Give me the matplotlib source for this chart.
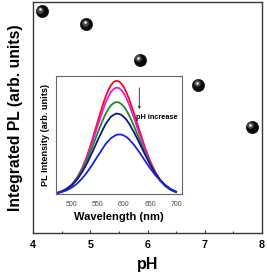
import matplotlib
matplotlib.use("Agg")
import matplotlib.pyplot as plt
import matplotlib.transforms as mtransforms

plt.rcParams['font.family'] = ['Liberation Sans', 'DejaVu Sans']

# main panel: integrated PL vs pH
ph = [4.15, 4.93, 5.86, 6.89, 7.82]
pl_integrated = [0.960, 0.904, 0.749, 0.641, 0.459]

# inset: PL spectra, one per pH value
wavelength = [470, 480, 490, 500, 510, 520, 530, 540, 550, 560, 565, 570, 575, 580, 585,
              590, 595, 600, 605, 610, 620, 630, 640, 650, 660, 670, 680, 690, 700]
spec_red = [0.006, 0.020, 0.043, 0.079, 0.137, 0.221, 0.333, 0.470, 0.620, 0.764, 0.827, 0.880,
            0.922, 0.949, 0.960, 0.955, 0.936, 0.905, 0.858, 0.805, 0.675, 0.535, 0.400,
            0.283, 0.188, 0.116, 0.066, 0.034, 0.016]
spec_magenta = [0.006, 0.020, 0.044, 0.080, 0.136, 0.216, 0.321, 0.447, 0.584, 0.716, 0.778, 0.824,
                0.866, 0.888, 0.902, 0.899, 0.881, 0.851, 0.810, 0.758, 0.637, 0.506, 0.380,
                0.270, 0.181, 0.113, 0.065, 0.034, 0.016]
spec_green = [0.006, 0.020, 0.043, 0.078, 0.130, 0.203, 0.297, 0.406, 0.523, 0.632, 0.680, 0.719,
              0.751, 0.769, 0.780, 0.776, 0.763, 0.740, 0.707, 0.667, 0.570, 0.461, 0.353,
              0.256, 0.176, 0.112, 0.066, 0.035, 0.017]
spec_navy = [0.007, 0.021, 0.043, 0.075, 0.122, 0.187, 0.267, 0.361, 0.459, 0.551, 0.594, 0.625,
             0.655, 0.670, 0.682, 0.679, 0.671, 0.652, 0.629, 0.596, 0.519, 0.430, 0.339,
             0.253, 0.178, 0.118, 0.072, 0.040, 0.019]
spec_blue = [0.006, 0.016, 0.031, 0.055, 0.088, 0.133, 0.189, 0.254, 0.324, 0.391, 0.425, 0.448,
             0.473, 0.487, 0.501, 0.504, 0.504, 0.495, 0.483, 0.463, 0.413, 0.352, 0.285,
             0.220, 0.162, 0.112, 0.073, 0.042, 0.021]

spectra = [spec_red, spec_magenta, spec_green, spec_navy, spec_blue]
colors = ['#e8101e', '#e020d8', '#1f8a2a', '#101880', '#1a22e0']

fig = plt.figure(figsize=(2.67, 2.77), dpi=100)
ax = fig.add_axes([0.124, 0.159, 0.857, 0.835])

# sphere-ish markers: dark ball + soft highlight shifted up-left
ax.plot(ph, pl_integrated, 'o', ms=8.8, color='#0a0a0a', mec='#000000', mew=0.4, zorder=3)
shift1 = ax.transData + mtransforms.ScaledTranslation(-1.3/100, 1.3/100, fig.dpi_scale_trans)
shift2 = ax.transData + mtransforms.ScaledTranslation(-1.8/100, 1.8/100, fig.dpi_scale_trans)
ax.plot(ph, pl_integrated, 'o', ms=4.8, color='#5a5a5a', mew=0, alpha=0.8, transform=shift1, zorder=4)
ax.plot(ph, pl_integrated, 'o', ms=2.0, color='#e8e8e8', mew=0, transform=shift2, zorder=5)

ax.set_xlim(4, 8)
ax.set_ylim(0, 1)
ax.set_xticks([4, 5, 6, 7, 8])
ax.set_xticks([4.5, 5.5, 6.5, 7.5], minor=True)
ax.set_yticks([])
ax.tick_params(axis='x', which='major', direction='in', length=2.5, width=0.8,
               pad=5, labelsize=7.7, color='#333333')
ax.tick_params(axis='x', which='minor', direction='in', length=1.5, width=0.8, color='#333333')
for lab in ax.get_xticklabels():
    lab.set_fontweight('bold')
ax.set_xlabel('pH', fontsize=11.5, fontweight='bold', labelpad=5)
ax.set_ylabel('Integrated PL (arb. units)', fontsize=11.3, fontweight='bold', labelpad=7)
for sp in ax.spines.values():
    sp.set_color('#3a3a3a')
    sp.set_linewidth(1.0)

# inset
axin = fig.add_axes([0.2086, 0.2996, 0.472, 0.426])
for spec, c in zip(spectra, colors):
    axin.plot(wavelength, spec, color=c, lw=1.3)
axin.set_xlim(469, 711)
axin.set_ylim(0, 1)
axin.set_xticks([500, 550, 600, 650, 700])
axin.set_yticks([])
axin.tick_params(axis='x', length=0, pad=5.3, labelsize=5.0, labelcolor='#4a4a4a')
axin.set_xlabel('Wavelength (nm)', fontsize=8, fontweight='bold', labelpad=2.5)
axin.set_ylabel('PL Intensity (arb. units)', fontsize=6.6, fontweight='bold', labelpad=4)
for sp in axin.spines.values():
    sp.set_color('#666666')
    sp.set_linewidth(0.8)

axin.annotate('', xy=(629.6, 0.72), xytext=(629.6, 0.90),
              arrowprops=dict(arrowstyle='-|>', color='#222222', lw=0.6,
                              mutation_scale=3, shrinkA=0, shrinkB=0))
axin.text(624, 0.647, 'pH increase', fontsize=5.3, fontweight='bold', va='center', ha='left')

fig.savefig('out.png', dpi=100)
